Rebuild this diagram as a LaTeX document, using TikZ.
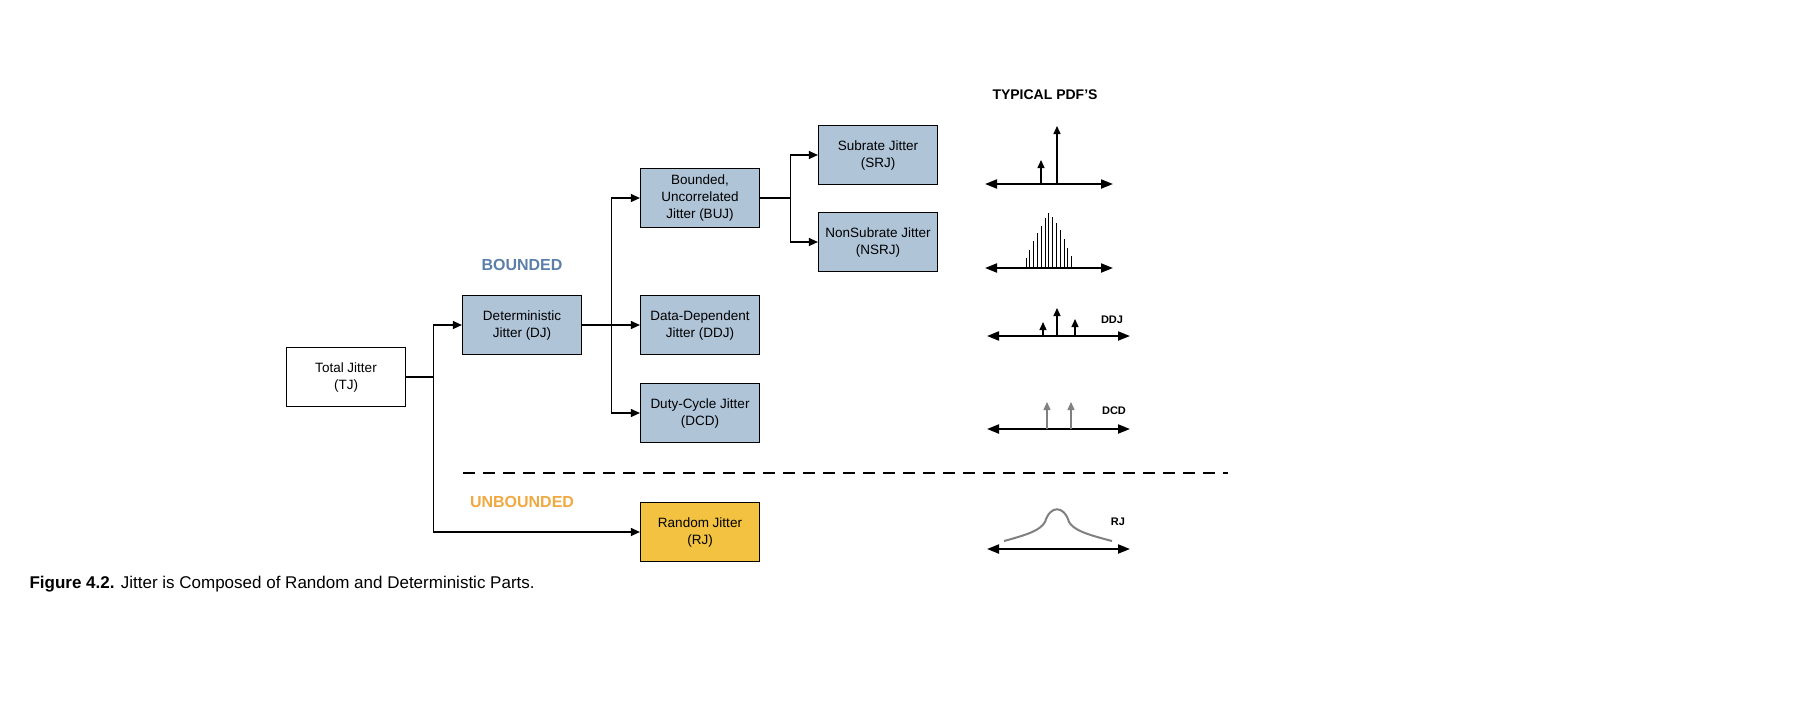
\documentclass[tikz,border=0pt]{standalone}
\usepackage{fontspec}
\setmainfont{Liberation Sans}
\usetikzlibrary{arrows.meta}
\definecolor{boxblue}{RGB}{176,196,216}
\definecolor{boxgold}{RGB}{243,194,65}
\definecolor{bndblue}{RGB}{91,127,168}
\definecolor{unbgold}{RGB}{240,169,64}
\tikzset{
  jbox/.style={draw,line width=1.2pt,fill=boxblue,minimum width=119pt,minimum height=59pt,align=center,font=\fontsize{13.5}{17}\selectfont},
  link/.style={line width=1.2pt,-{Triangle[length=9pt,width=8pt]}},
  axis/.style={line width=2pt,{Triangle[length=12pt,width=9pt]}-{Triangle[length=12pt,width=9pt]}},
  spike/.style={line width=1.3pt,-{Triangle[length=8pt,width=7pt]}}
}
\begin{document}
\begin{tikzpicture}[x=1pt,y=-1pt]
\useasboundingbox (0,0) rectangle (1812,724);
% boxes
\node[jbox,fill=white] (tj) at (346,377) {Total Jitter\\(TJ)};
\node[jbox] (dj) at (522,325) {Deterministic\\Jitter (DJ)};
\node[jbox] (buj) at (700,198) {Bounded,\\Uncorrelated\\Jitter (BUJ)};
\node[jbox] (ddj) at (700,325) {Data-Dependent\\Jitter (DDJ)};
\node[jbox] (dcd) at (700,413) {Duty-Cycle Jitter\\(DCD)};
\node[jbox,fill=boxgold] (rj) at (700,532) {Random Jitter\\(RJ)};
\node[jbox] (srj) at (878,155) {Subrate Jitter\\(SRJ)};
\node[jbox] (nsrj) at (878,242) {NonSubrate Jitter\\(NSRJ)};
% connectors
\draw[line width=1.2pt] (tj.east) -- ++(27,0) coordinate (tjfork);
\draw[link] (tjfork) |- (dj.west);
\draw[link] (tjfork) |- (rj.west);
\draw[line width=1.2pt] (dj.east) -- ++(29,0) coordinate (djfork);
\draw[link] (djfork) |- (buj.west);
\draw[link] (djfork) -- (ddj.west);
\draw[link] (djfork) |- (dcd.west);
\draw[line width=1.2pt] (buj.east) -- ++(30,0) coordinate (bujfork);
\draw[link] (bujfork) |- (srj.west);
\draw[link] (bujfork) |- (nsrj.west);
% labels
\draw[line width=1.3pt,dash pattern=on 12pt off 8pt] (463,473) -- (1228,473);
\node[text=bndblue,font=\bfseries\fontsize{16}{19}\selectfont] (bnd) at (522,265) {BOUNDED};
\node[text=unbgold,font=\bfseries\fontsize{16}{19}\selectfont] (unb) at (522,502) {UNBOUNDED};
\node[font=\bfseries\fontsize{14}{17}\selectfont] (pdf) at (1045,95) {TYPICAL PDF’S};
% pdfs
\draw[axis] (985,184) -- (1113,184);
\draw[spike] (1041,184) -- (1041,160);
\draw[spike] (1057,184) -- (1057,126);
\draw[axis] (985,268) -- (1113,268);
\foreach \i/\h in {0/10,1/18,2/27,3/35,4/42,5/50,6/55,7/51,8/45,9/38,10/29,11/20,12/12}
  \draw[line width=1pt] (1026+\i*3.8,268) -- ++(0,-\h);
\draw[axis] (987,336) -- (1130,336);
\draw[spike] (1043,336) -- (1043,322);
\draw[spike] (1057,336) -- (1057,308);
\draw[spike] (1075,336) -- (1075,319);
\node[font=\bfseries\fontsize{11}{13}\selectfont] (ddjl) at (1112,320) {DDJ};
\draw[axis] (987,429) -- (1130,429);
\draw[spike,gray] (1047,429) -- (1047,402);
\draw[spike,gray] (1071,429) -- (1071,402);
\node[font=\bfseries\fontsize{11}{13}\selectfont] (dcdl) at (1114,411) {DCD};
\draw[axis] (987,549) -- (1130,549);
\draw[gray,line width=2pt] (1004,541) .. controls (1030,534) and (1040,530) .. (1045,522)
  .. controls (1050,505) and (1064,505) .. (1069,522)
  .. controls (1074,530) and (1085,534) .. (1112,541);
\node[font=\bfseries\fontsize{11}{13}\selectfont] (rjl) at (1118,522) {RJ};
% caption
\node[anchor=west,font=\fontsize{17}{20}\selectfont] (cap) at (26,584) {\textbf{Figure 4.2.} Jitter is Composed of Random and Deterministic Parts.};
\end{tikzpicture}
\end{document}
